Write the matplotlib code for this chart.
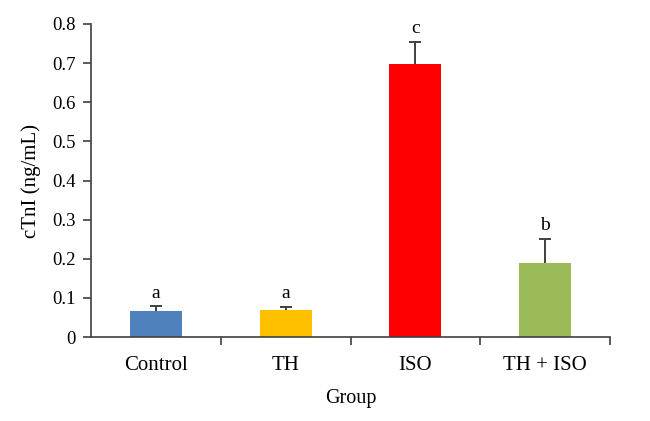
import matplotlib
matplotlib.use("Agg")
import matplotlib.pyplot as plt
import numpy as np

categories = ["Control", "TH", "ISO", "TH + ISO"]
values = [0.066, 0.069, 0.697, 0.190]
errors = [0.012, 0.008, 0.058, 0.060]
letters = ["a", "a", "c", "b"]
colors = ["#4F81BD", "#FFC000", "#FF0000", "#9BBB59"]
yticks = [0, 0.1, 0.2, 0.3, 0.4, 0.5, 0.6, 0.7, 0.8]
ytick_labels = ["0", "0.1", "0.2", "0.3", "0.4", "0.5", "0.6", "0.7", "0.8"]

plt.rcParams['font.family'] = ['Liberation Serif', 'DejaVu Serif']

fig = plt.figure(figsize=(6.5, 4.21), dpi=100)
ax = fig.add_axes([0.14, 0.1995, 0.7985, 0.7435])

x = np.arange(len(categories))
ax.bar(x, values, width=0.4, color=colors, zorder=2)
_, caps, _ = ax.errorbar(x, values, yerr=[np.zeros(len(errors)), errors], fmt='none',
                         ecolor='#404040', elinewidth=1.4, capsize=4.5, capthick=1.4, zorder=3)
caps[0].set_visible(False)
for xi, v, e, l in zip(x, values, errors, letters):
    ax.text(xi, v + e + 0.012, l, ha='center', va='bottom', fontsize=14)

ax.set_xlim(-0.5, len(categories) - 0.5)
ax.set_ylim(0, 0.8)
ax.set_yticks(yticks)
ax.set_yticklabels(ytick_labels, fontsize=13.5)
ax.set_xticks(x)
ax.set_xticklabels(categories, fontsize=15)
ax.tick_params(axis='x', length=0, pad=14)
ax.set_xticks(np.arange(len(categories)) + 0.5, minor=True)
ax.tick_params(axis='x', which='minor', length=6, color='#404040', width=1.2)
ax.tick_params(axis='y', length=6, color='#404040', width=1.2, pad=5)
for s in ['top', 'right']:
    ax.spines[s].set_visible(False)
for s in ['left', 'bottom']:
    ax.spines[s].set_color('#404040')
    ax.spines[s].set_linewidth(1.2)
ax.set_ylabel("cTnI (ng/mL)", fontsize=15, labelpad=8)
ax.set_xlabel("Group", fontsize=14.5, labelpad=10)

fig.savefig("out.png", dpi=100)
